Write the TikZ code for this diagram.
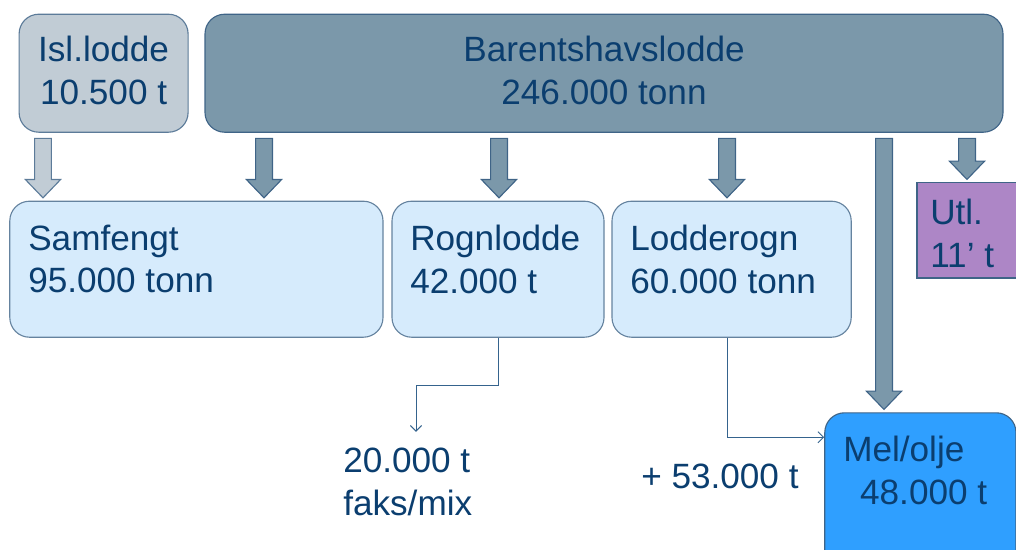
\documentclass[tikz,border=0pt]{standalone}
\usepackage{fontspec}
\setmainfont{Liberation Sans}
\usetikzlibrary{arrows.meta,calc}

\definecolor{txtblue}{HTML}{0B3E6F}
\definecolor{islgray}{HTML}{C1CCD5}
\definecolor{barfill}{HTML}{7B98AA}
\definecolor{edgeblue}{HTML}{3F6487}
\definecolor{lightbox}{HTML}{D6EBFC}
\definecolor{utlpurple}{HTML}{AD86C6}
\definecolor{melblue}{HTML}{2F9FFF}
\definecolor{linkblue}{HTML}{35638D}

\tikzset{
    box/.style={rectangle, draw=edgeblue, line width=0.8pt, rounded corners=14pt, inner sep=0pt},
    lbox/.style={box, fill=lightbox, draw=edgeblue!80},
    txt/.style={inner sep=0pt, text=txtblue, font=\fontsize{25}{30.5}\selectfont},
    fatarr/.style={draw=edgeblue, fill=barfill, line width=0.8pt, line join=miter},
    link/.style={draw=linkblue, line width=0.7pt, -{Straight Barb[length=4pt,width=8pt]}}
}

% x, from node, to node
\newcommand{\fatarrow}[4][]{%
    \draw[fatarr,#1] let \p1=([yshift=-4pt]#3.south -| #2,0), \p2=([yshift=2pt]#4.north -| #2,0) in
        (\x1-6pt,\y1) -- (\x1+6pt,\y1) -- (\x1+6pt,\y2+13pt) -- (\x1+12.5pt,\y2+13pt)
        -- (\x1,\y2) -- (\x1-12.5pt,\y2+13pt) -- (\x1-6pt,\y2+13pt) -- cycle;}

\begin{document}
\begin{tikzpicture}
    \useasboundingbox (0cm, 0cm) rectangle (25.4cm, -13.725cm);

    \node (isl) [box, fill=islgray, draw=edgeblue!85, minimum width=4.225cm, minimum height=2.95cm] at (2.59cm, -1.83cm) {};
    \node (barents) [box, fill=barfill, minimum width=19.95cm, minimum height=2.95cm] at (15.1cm, -1.83cm) {};

    \node (samfengt) [lbox, minimum width=9.33cm, minimum height=3.4cm] at (4.91cm, -6.73cm) {};
    \node (rognlodde) [lbox, minimum width=5.3cm, minimum height=3.4cm] at (12.45cm, -6.73cm) {};
    \node (lodderogn) [lbox, minimum width=5.98cm, minimum height=3.4cm] at (18.29cm, -6.73cm) {};

    \node (utl) [rectangle, fill=utlpurple, draw=edgeblue, line width=0.8pt, minimum width=2.83cm, minimum height=2.38cm] at (24.34cm, -5.76cm) {};
    \node (melolje) [box, fill=melblue, minimum width=4.78cm, minimum height=4.68cm] at (23.01cm, -12.66cm) {};

    \node (islT) [txt, align=center] at (2.59cm, -1.75cm) {Isl.lodde\\10.500 t};
    \node (barentsT) [txt, align=center] at (15.1cm, -1.75cm) {Barentshavslodde\\246.000 tonn};
    \node (samfengtT) [txt, align=left, anchor=west] at (0.7cm, -6.475cm) {Samfengt\\95.000 tonn};
    \node (rognloddeT) [txt, align=left, anchor=west] at (10.25cm, -6.475cm) {Rognlodde\\42.000 t};
    \node (lodderognT) [txt, align=left, anchor=west] at (15.75cm, -6.475cm) {Lodderogn\\60.000 tonn};
    \node (utlT) [txt, align=left, anchor=west] at (23.25cm, -5.825cm) {Utl.\\11' t};
    \node (meloljeT) [txt, align=left, anchor=west] at (21.075cm, -11.75cm) {Mel/olje\\\hspace*{12pt}48.000 t};
    \node (faksT) [txt, align=left, anchor=west] at (8.575cm, -12.05cm) {20.000 t\\faks/mix};
    \node (plusT) [txt, anchor=west] at (16.025cm, -11.9cm) {+ 53.000 t};

    \fatarrow[fill=islgray, draw=edgeblue!85]{1.075cm}{isl}{samfengt}
    \fatarrow{6.6cm}{barents}{samfengt}
    \fatarrow{12.475cm}{barents}{rognlodde}
    \fatarrow{18.175cm}{barents}{lodderogn}
    \fatarrow{22.1cm}{barents}{melolje}
    \fatarrow{24.175cm}{barents}{utl}

    \draw[link] (rognlodde.south) -- ++(0, -1.2cm) -| ([yshift=0.4cm]faksT.north -| 10.4cm,0);
    \draw[link] (lodderogn.south -| 18.175cm,0) |- ([yshift=-0.625cm]melolje.north west);
\end{tikzpicture}
\end{document}
